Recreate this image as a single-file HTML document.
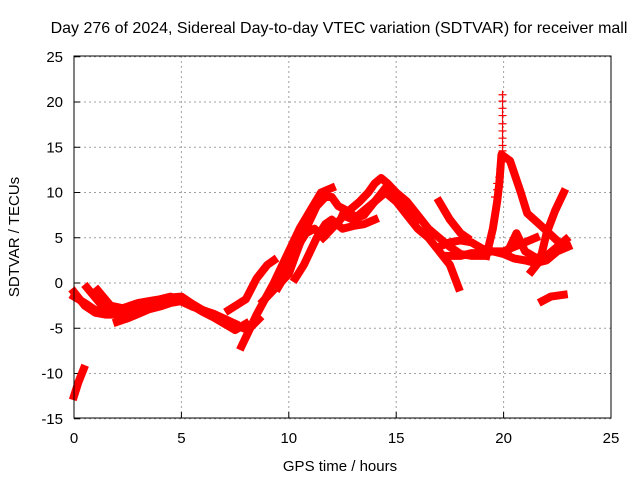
<!DOCTYPE html>
<html><head><meta charset="utf-8"><style>
body{margin:0;background:#fff}
svg{display:block;font-family:"Liberation Sans",sans-serif}
</style></head><body>
<svg id="chart" width="640" height="480">
<text x="339" y="33" font-size="16" text-anchor="middle">Day 276 of 2024, Sidereal Day-to-day VTEC variation (SDTVAR) for receiver mall</text>
<text x="340" y="471" font-size="15" text-anchor="middle">GPS time / hours</text>
<text x="19" y="237" font-size="15" text-anchor="middle" transform="rotate(-90 19 237)">SDTVAR / TECUs</text>
<g id="grid"></g><g id="marks"></g>
<rect x="74" y="56" width="537" height="362" fill="none" stroke="#000" stroke-width="1"/>
</svg>
<script>
const xTicks=[0,5,10,15,20,25];
const yTicks=[25,20,15,10,5,0,-5,-10,-15];
const tA=[0,0.2,0.45], vA=[-12.5,-11,-9.5];
const tB=[0,0.5,1,1.5,2,2.5,3,3.5,4,4.5,5,5.5,6,6.5,7,7.5,8], vB=[-1,-2.5,-3.3,-3.5,-3.5,-3.2,-2.8,-2.5,-2.2,-2,-2,-2.5,-3.2,-3.8,-4.5,-5.2,-4.5];
const tC=[0,0.5,1,1.5,2,2.5,3,3.5,4,4.5,5,5.5,6,6.5,7], vC=[-1.5,-2.2,-3,-3,-3.2,-3,-2.5,-2.3,-2,-1.6,-1.5,-2.3,-3,-3.5,-4];
const tD=[2,2.5,3,3.5,4,4.5,5], vD=[-4.3,-3.9,-3.4,-2.9,-2.6,-2.2,-2];
const tE=[0.6,1.3,2], vE=[-0.5,-2.5,-3];
const tF=[1.1,1.7,2.3], vF=[-0.8,-2.5,-2.8];
const tS=[2.5,3,3.5,4,4.5,5.5,6.5,7.5], vS=[-2.6,-2.2,-2,-1.8,-1.5,-2.6,-3.4,-4.5];
const tG=[7.8,8.5,9.3,9.8,10.5,11,11.5,12], vG=[-7,-3.5,0,2.5,6,8,10,10.5];
const tH=[7.2,8,8.5,9,9.3], vH=[-3,-1.8,0.5,2,2.5];
const tT=[6.5,7,7.5,8.1,8.6], vT=[-3.5,-4.3,-4.6,-5.2,-4];
const tI=[8.8,9.4,10,10.3,10.7,11,11.3,11.7,12,12.3,12.7,13], vI=[-2,-0.5,1,3,5.5,7,8.5,9.5,9.5,8.5,8,7.5];
const tJ=[10.3,10.7,11,11.3,11.7,12,12.5,13,13.5,14], vJ=[0.5,2,3.5,5,6.5,7,6,6.3,6.5,7];
const tU=[9.5,10,10.4,10.8,11.2,11.6], vU=[-0.5,1.5,4,5.5,6,5];
const tK=[11.8,12.2,12.7,13.3,13.7,14,14.3,14.6,15,15.5,16,16.5,17,17.5,18,18.5,19], vK=[5.5,6.5,7.8,9,10,11,11.6,11,10,9,7.5,6,5,4,3.2,3,3];
const tL=[13,13.5,14,14.5,15,15.5,16,16.5,17,17.5,17.9], vL=[7,8,9,10,9,7.5,6,5,3.5,2,-0.5];
const tV=[12.5,13,13.5,14,14.5,15,15.5,16], vV=[7.5,7,7.5,9,10.5,9.5,8.5,7];
const tM=[17,17.5,18,18.5,19,19.5,20,20.5,21,21.5], vM=[4,4.5,4.7,4.5,3.8,3.5,3.5,4,4.5,5];
const tN=[17.3,18,18.5,19,19.5,20,20.5,21,21.5,22,22.5,23], vN=[3,3,3.3,3.3,3.5,3.2,2.7,2.5,2.2,2.5,3.5,4];
const tO=[17,17.5,18,18.3], vO=[9,7,5.5,5];
const tP=[19.2,19.5,19.7,19.8,19.9,20.3,20.8,21.1,21.8,22.3,22.8], vP=[3,6,9,11,14.2,13.5,10,7.7,6.2,5.1,4];
const tQ=[21.3,21.7,22,22.4,22.8], vQ=[1.3,2.5,5.5,8,10];
const tW=[20.2,20.6,21,21.5,22,22.5,22.9], vW=[3.5,5.5,3.5,2.8,3,4,4.8];
const tR=[21.8,22.2,22.8], vR=[-2,-1.5,-1.3];
const spikeT=[19.95,19.95,19.95,19.95,19.95,19.95,19.95,19.95,19.95,19.9,19.85,19.8,19.7,19.7,19.6], spikeV=[20.8,20.1,19.3,18.5,17.6,16.8,16,15.2,14.6,13.5,12.6,11.7,11,10.3,9.5];
const tracks=[[tA,vA],[tB,vB],[tC,vC],[tD,vD],[tE,vE],[tF,vF],[tS,vS],[tG,vG],[tH,vH],[tT,vT],[tI,vI],[tJ,vJ],[tU,vU],[tK,vK],[tL,vL],[tV,vV],[tM,vM],[tN,vN],[tO,vO],[tP,vP],[tQ,vQ],[tW,vW],[tR,vR]];
const X=t=>74+t*21.48, Y=v=>283-v*9.05;
const NS='http://www.w3.org/2000/svg';
const grid=document.getElementById('grid'), marks=document.getElementById('marks');
function mk(tag,attrs,parent){const e=document.createElementNS(NS,tag);for(const k in attrs)e.setAttribute(k,attrs[k]);parent.appendChild(e);return e;}
xTicks.forEach(t=>{
  const x=X(t);
  const g=mk('line',{x1:x,x2:x,y1:56,y2:418,stroke:'#a0a0a0','stroke-dasharray':'2,3'},grid);
  
  
  mk('line',{x1:x,x2:x,y1:418,y2:412,stroke:'#000'},grid);
  const l=mk('text',{x:x,y:443,'font-size':15,'text-anchor':'middle'},grid);l.textContent=t;
  
  
});
yTicks.forEach(v=>{
  const y=Y(v);
  const g=mk('line',{x1:74,x2:611,y1:y,y2:y,stroke:'#a0a0a0','stroke-dasharray':'2,3'},grid);
  
  
  mk('line',{x1:74,x2:80,y1:y,y2:y,stroke:'#000'},grid);
  const l=mk('text',{x:63,y:y+5,'font-size':15,'text-anchor':'end'},grid);l.textContent=v;
  
  
});
tracks.forEach(([ts,vs])=>{
  const pts=ts.map((t,i)=>X(t)+','+Y(vs[i])).join(' ');
  const p=mk('polyline',{points:pts,fill:'none',stroke:'#ff0000','stroke-width':8,'stroke-linejoin':'round','stroke-linecap':'square'},marks);
  
  
});
spikeT.forEach((t,i)=>{
  const x=X(t),y=Y(spikeV[i]);
  const p=mk('path',{d:`M${x-4},${y}H${x+4}M${x},${y-4}V${y+4}`,stroke:'#ff0000','stroke-width':1.2},marks);
  
  
});
</script>
</body></html>
